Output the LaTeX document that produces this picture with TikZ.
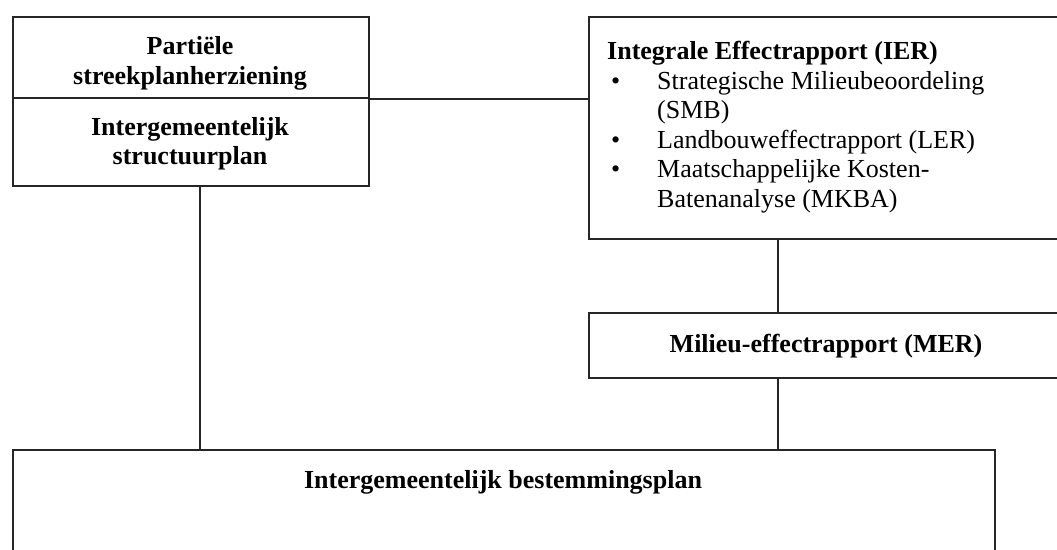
\documentclass[tikz,border=0pt]{standalone}
\usepackage{fontspec}
\setmainfont{Liberation Serif}
\begin{document}
\begin{tikzpicture}[x=1pt,y=-1pt,
  box/.style={draw=black!85, line width=1.8pt, rectangle, inner sep=0pt, anchor=north west,
     font=\fontsize{26}{30}\selectfont},
  lbl/.style={inner sep=0pt, anchor=base, font=\fontsize{26}{30}\selectfont\bfseries},
  link/.style={draw=black!85, line width=1.8pt}]
\clip (0,0) rectangle (1057,549);
\fill[white] (0,0) rectangle (1057,549);

% left split box
\node[box, minimum width=356pt, minimum height=81pt] (psh) at (12,16) {};
\node[box, minimum width=356pt, minimum height=88pt] (isp) at (12,97) {};
\node[lbl] (psh1) at (190,54) {Partiële};
\node[lbl] (psh2) at (190,84) {streekplanherziening};
\node[lbl] (isp1) at (190,135) {Intergemeentelijk};
\node[lbl] (isp2) at (190,164) {structuurplan};

% IER box
\node[box, minimum width=477pt, minimum height=222pt] (ier) at (588,16) {};
\node[inner sep=0pt, anchor=north west, text width=440pt, align=flush left,
  font=\fontsize{26}{29.5}\selectfont] (iertxt) at (607,41)
  {\textbf{Integrale Effectrapport (IER)}\\
   \hspace*{4pt}\makebox[46pt][l]{\textbullet}Strategische Milieubeoordeling\\
   \hspace*{50pt}(SMB)\\
   \hspace*{4pt}\makebox[46pt][l]{\textbullet}Landbouweffectrapport (LER)\\
   \hspace*{4pt}\makebox[46pt][l]{\textbullet}Maatschappelijke Kosten-\\
   \hspace*{50pt}Batenanalyse (MKBA)};

% MER box
\node[box, minimum width=477pt, minimum height=65pt] (mer) at (588,312) {};
\node[lbl] (mertxt) at (826,352) {Milieu-effectrapport (MER)};

% bottom box
\node[box, minimum width=982pt, minimum height=105pt] (ibp) at (12,449) {};
\node[lbl] (ibptxt) at (503,488) {Intergemeentelijk bestemmingsplan};

% connectors
\coordinate (split) at (psh.south east);
\draw[link] (split) -- (split -| ier.west);
\draw[link] (isp.south -| 200,0) -- (ibp.north -| 200,0);
\draw[link] (ier.south -| 778,0) -- (mer.north -| 778,0);
\draw[link] (mer.south -| 778,0) -- (ibp.north -| 778,0);
\end{tikzpicture}
\end{document}
